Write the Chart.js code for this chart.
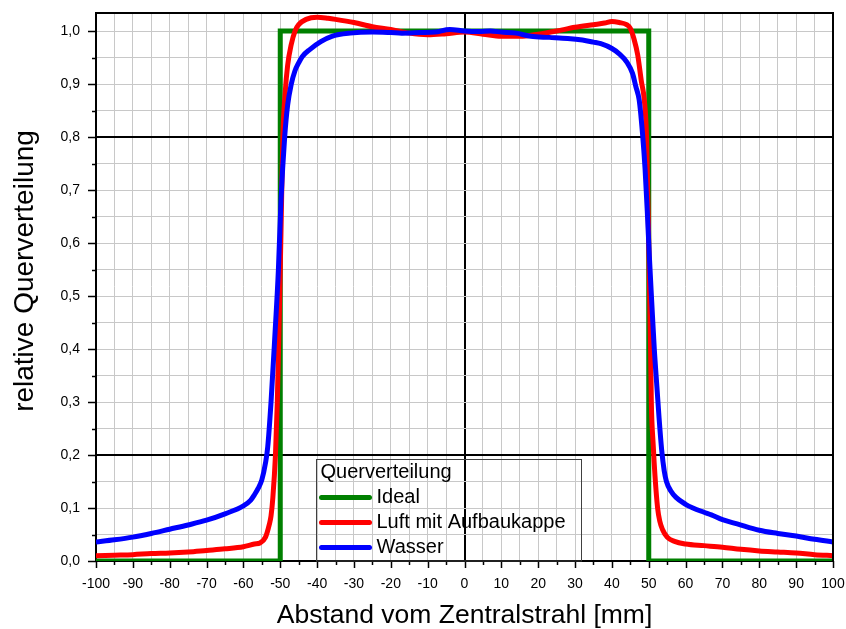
<!DOCTYPE html>
<html>
<head>
<meta charset="utf-8">
<script src="https://cdn.jsdelivr.net/npm/chart.js@4.4.1/dist/chart.umd.min.js"></script>
<style>
	html, body { margin: 0; padding: 0; background: #fff; }
	canvas { display: block; }
</style>
</head>
<body>
<canvas id="myChart" width="846" height="629"></canvas>
<script>
// values (x in mm, y relative)
const idealX = [-100, -50, -50, 50, 50, 100];
const idealY = [0, 0, 1, 1, 0, 0];

const luftX = [-100, -95, -90, -85, -80, -75, -70, -65, -60, -57, -55.5, -54, -53, -52.5, -52, -51.3, -50.8, -50.3,
	-49.8, -49.3, -48.7, -48, -47, -46, -45, -43, -40, -37, -35, -30, -25, -20, -15, -10, -5, 0, 5, 10, 15, 20, 25,
	30, 35, 38, 40, 42, 44, 45, 46, 47, 48, 48.8, 49.4, 50, 50.5, 50.7, 51.2, 51.7, 52.4, 53, 53.7, 55, 57, 60, 65,
	70, 75, 80, 85, 90, 95, 100];
const luftY = [0.010, 0.011, 0.012, 0.014, 0.015, 0.017, 0.020, 0.023, 0.027, 0.032, 0.034, 0.045, 0.068, 0.085,
	0.12, 0.20, 0.30, 0.45, 0.62, 0.80, 0.88, 0.935, 0.975, 1.0, 1.012, 1.022, 1.026, 1.024, 1.022, 1.016, 1.008,
	1.003, 0.996, 0.993, 0.995, 0.998, 0.994, 0.990, 0.990, 0.994, 1.0, 1.007, 1.012, 1.015, 1.018, 1.016, 1.012,
	1.005, 0.985, 0.955, 0.905, 0.87, 0.80, 0.60, 0.40, 0.30, 0.22, 0.16, 0.10, 0.075, 0.06, 0.045, 0.037, 0.032,
	0.029, 0.026, 0.022, 0.019, 0.017, 0.015, 0.012, 0.010];

const wasserX = [-100, -95, -90, -85, -80, -75, -70, -65, -60, -58, -57, -56, -55, -54, -53.4, -52.5, -51.5, -50.5,
	-49.8, -48.8, -48, -47, -46, -45, -44, -42, -39, -36, -31, -25, -20, -17, -12, -8, -4, 0, 4, 7, 10, 14, 18, 23,
	28, 32, 35, 37, 40, 42, 44, 45.6, 46.5, 47.4, 48.3, 49, 49.6, 50.2, 50.8, 51.5, 52.2, 52.8, 53.5, 54.2, 54.8, 56,
	57.4, 60, 62, 65, 67, 70, 74, 80, 85, 90, 95, 100];
const wasserY = [0.036, 0.040, 0.045, 0.052, 0.060, 0.068, 0.077, 0.089, 0.104, 0.115, 0.125, 0.137, 0.153, 0.185,
	0.215, 0.30, 0.42, 0.55, 0.68, 0.80, 0.86, 0.90, 0.925, 0.94, 0.952, 0.965, 0.98, 0.99, 0.996, 0.998, 0.997,
	0.996, 0.997, 0.998, 1.003, 1.0, 0.999, 1.0, 0.998, 0.996, 0.990, 0.988, 0.986, 0.983, 0.979, 0.976, 0.967,
	0.957, 0.942, 0.92, 0.895, 0.87, 0.807, 0.74, 0.66, 0.57, 0.49, 0.40, 0.33, 0.27, 0.21, 0.17, 0.15, 0.132,
	0.12, 0.107, 0.10, 0.092, 0.087, 0.078, 0.07, 0.058, 0.052, 0.047, 0.041, 0.036];

const seriesNames = ["Ideal", "Luft mit Aufbaukappe", "Wasser"];
const seriesColors = ["#008000", "#ff0000", "#0000ff"];
const legendTitle = "Querverteilung";
const xTitle = "Abstand vom Zentralstrahl [mm]";
const yTitle = "relative Querverteilung";
const xTickLabels = ["-100", "-90", "-80", "-70", "-60", "-50", "-40", "-30", "-20", "-10", "0",
	"10", "20", "30", "40", "50", "60", "70", "80", "90", "100"];
const yTickLabels = ["0,0", "0,1", "0,2", "0,3", "0,4", "0,5", "0,6", "0,7", "0,8", "0,9", "1,0"];

const FONT = "'Liberation Sans', Arial, sans-serif";
const toPoints = (xs, ys) => xs.map((x, i) => ({ x: x, y: ys[i] }));

const isMajorY = (v) => Math.round(v * 100) % 10 === 0;
const isBlackY = (v) => Math.abs(v - 0.2) < 1e-6 || Math.abs(v - 0.8) < 1e-6;

// frame on top/right, tick marks of two lengths, y title, legend box inside the plot
const extras = {
	id: "extras",
	afterDraw(chart) {
		const { ctx, chartArea: a, scales } = chart;
		const x = scales.x;
		const y = scales.y;
		ctx.save();
		ctx.strokeStyle = "#000";
		ctx.lineWidth = 2;
		ctx.beginPath();
		ctx.moveTo(a.left, a.top);
		ctx.lineTo(a.right, a.top);
		ctx.lineTo(a.right, a.bottom + 1);
		ctx.stroke();

		ctx.lineWidth = 1.5;
		ctx.beginPath();
		x.ticks.forEach((t) => {
			const px = Math.round(x.getPixelForValue(t.value)) + 0.5;
			const len = t.value % 10 === 0 ? 7 : 4;
			ctx.moveTo(px, a.bottom);
			ctx.lineTo(px, a.bottom + len);
		});
		y.ticks.forEach((t) => {
			const py = Math.round(y.getPixelForValue(t.value)) + 0.5;
			const len = isMajorY(t.value) ? 8 : 4;
			ctx.moveTo(a.left, py);
			ctx.lineTo(a.left - len, py);
		});
		ctx.stroke();

		// y axis title, a bit above the plot centre as in the original
		ctx.fillStyle = "#000";
		ctx.font = "28px " + FONT;
		ctx.textAlign = "center";
		ctx.textBaseline = "middle";
		ctx.save();
		ctx.translate(25, 271);
		ctx.rotate(-Math.PI / 2);
		ctx.fillText(yTitle, 0, 0);
		ctx.restore();

		// legend
		const lx = a.left + 220.5;
		const ly = a.top + 446.5;
		ctx.strokeStyle = "#404040";
		ctx.lineWidth = 1;
		ctx.strokeRect(lx, ly, 265, a.bottom - ly);
		ctx.font = "20px " + FONT;
		ctx.textAlign = "left";
		ctx.fillText(legendTitle, lx + 4, ly + 13);
		seriesNames.forEach((name, i) => {
			const ry = ly + 38 + i * 25;
			ctx.strokeStyle = seriesColors[i];
			ctx.lineWidth = 5;
			ctx.lineCap = "round";
			ctx.beginPath();
			ctx.moveTo(lx + 5, ry);
			ctx.lineTo(lx + 53, ry);
			ctx.stroke();
			ctx.fillText(name, lx + 60, ry);
		});
		ctx.restore();
	},
};

const ctx = document.getElementById("myChart");

const myChart = new Chart(ctx, {
	type: "line",
	data: {
		datasets: [
			{
				label: seriesNames[0],
				data: toPoints(idealX, idealY),
				borderColor: seriesColors[0],
				borderWidth: 5,
				borderJoinStyle: "miter",
				pointRadius: 0,
				order: 3,
			},
			{
				label: seriesNames[1],
				data: toPoints(luftX, luftY),
				borderColor: seriesColors[1],
				borderWidth: 5,
				borderJoinStyle: "round",
				cubicInterpolationMode: "monotone",
				pointRadius: 0,
				order: 2,
			},
			{
				label: seriesNames[2],
				data: toPoints(wasserX, wasserY),
				borderColor: seriesColors[2],
				borderWidth: 5,
				borderJoinStyle: "round",
				cubicInterpolationMode: "monotone",
				pointRadius: 0,
				order: 1,
			},
		],
	},
	options: {
		responsive: false,
		animation: false,
		layout: { padding: { top: 13, right: 13, left: 0, bottom: 0 } },
		plugins: {
			legend: { display: false },
			tooltip: { enabled: false },
		},
		scales: {
			x: {
				type: "linear",
				min: -100,
				max: 100,
				afterFit: (scale) => {
					scale.height = 68;
					scale.paddingLeft = 0;
					scale.paddingRight = 0;
				},
				border: { color: "#000", width: 2 },
				grid: {
					color: (c) => (c.tick && c.tick.value === 0 ? "#000" : "#c8c8c8"),
					lineWidth: (c) => (c.tick && c.tick.value === 0 ? 2 : 1),
					tickColor: "rgba(0,0,0,0)",
					tickLength: 7,
				},
				ticks: {
					stepSize: 5,
					autoSkip: false,
					maxRotation: 0,
					padding: 8,
					color: "#000",
					font: { family: FONT, size: 14 },
					callback: (v) => (v % 10 === 0 ? xTickLabels[(v + 100) / 10] : ""),
				},
				title: {
					display: true,
					text: xTitle,
					color: "#000",
					font: { family: FONT, size: 26.5, lineHeight: 1 },
					padding: { top: 0, bottom: 0 },
				},
			},
			y: {
				type: "linear",
				min: 0,
				max: 1.034,
				afterFit: (scale) => {
					scale.width = 96;
					scale.paddingTop = 0;
					scale.paddingBottom = 0;
				},
				border: { color: "#000", width: 2 },
				grid: {
					color: (c) => (c.tick && isBlackY(c.tick.value) ? "#000" : "#c8c8c8"),
					lineWidth: (c) => (c.tick && isBlackY(c.tick.value) ? 2 : 1),
					tickColor: "rgba(0,0,0,0)",
					tickLength: 8,
				},
				ticks: {
					stepSize: 0.05,
					includeBounds: false,
					autoSkip: false,
					padding: 8,
					color: "#000",
					font: { family: FONT, size: 14 },
					callback: (v) => (isMajorY(v) ? yTickLabels[Math.round(v * 10)] : ""),
				},
				title: {
					display: false,
					text: yTitle,
				},
			},
		},
	},
	plugins: [extras],
});
</script>
</body>
</html>
